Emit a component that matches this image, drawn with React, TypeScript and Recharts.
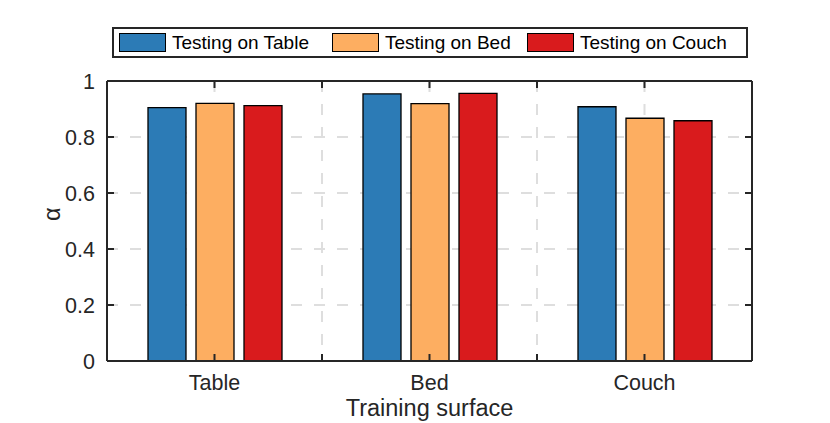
import { BarChart, Bar, XAxis, YAxis, CartesianGrid } from 'recharts'

const surfaces = ['Table', 'Bed', 'Couch']
const surfacePositions = [1, 2, 3]
const testingOnTable = [0.905, 0.954, 0.908]
const testingOnBed = [0.92, 0.919, 0.867]
const testingOnCouch = [0.912, 0.956, 0.858]
const yTicks = [0, 0.2, 0.4, 0.6, 0.8, 1]
const xTicks = [1, 1.5, 2, 2.5, 3]

const series = [
  { key: 'table', name: 'Testing on Table', color: '#2c7bb6', values: testingOnTable },
  { key: 'bed', name: 'Testing on Bed', color: '#fdae61', values: testingOnBed },
  { key: 'couch', name: 'Testing on Couch', color: '#d91b1d', values: testingOnCouch },
]

// legend entry widths (swatch + text + gap), matching the reference spacing
const legendEntryWidths = [213, 195, 210]

const data = surfaces.map((surface, i) => {
  const row: Record<string, string | number> = { surface, pos: surfacePositions[i] }
  series.forEach((s) => {
    row[s.key] = s.values[i]
  })
  return row
})

const AXIS = '#262626'
const FONT = '"Liberation Sans", Arial, Helvetica, sans-serif'
const TICK_LEN = 7

function LeftTick({ x, y, payload }: any) {
  return (
    <g>
      <line x1={x} x2={x + TICK_LEN} y1={y} y2={y} stroke={AXIS} strokeWidth={2} />
      <text x={x - 12} y={y} dy="0.35em" textAnchor="end" fontSize={21.5} fontFamily={FONT} fill={AXIS}>
        {String(payload.value)}
      </text>
    </g>
  )
}

function RightTick({ x, y }: any) {
  return <line x1={x} x2={x - TICK_LEN} y1={y} y2={y} stroke={AXIS} strokeWidth={2} />
}

function TopTick({ x, y }: any) {
  return <line x1={x} x2={x} y1={y} y2={y + TICK_LEN} stroke={AXIS} strokeWidth={2} />
}

function BottomTick({ x, y, payload }: any) {
  const idx = surfacePositions.indexOf(payload.value)
  return (
    <g>
      <line x1={x} x2={x} y1={y} y2={y - TICK_LEN} stroke={AXIS} strokeWidth={2} />
      {idx >= 0 && (
        <text x={x} y={y + 29} textAnchor="middle" fontSize={21.5} fontFamily={FONT} fill={AXIS}>
          {surfaces[idx]}
        </text>
      )}
    </g>
  )
}

function LegendBox() {
  return (
    <div
      style={{
        position: 'absolute',
        left: 112,
        top: 27,
        width: 636,
        height: 31,
        boxSizing: 'border-box',
        border: `2px solid ${AXIS}`,
        background: '#fff',
        display: 'flex',
        alignItems: 'center',
        paddingLeft: 5,
        fontFamily: FONT,
        fontSize: 19,
        color: '#000',
        whiteSpace: 'nowrap',
      }}
    >
      {series.map((s, i) => (
        <span key={s.key} style={{ display: 'flex', alignItems: 'center', width: legendEntryWidths[i] }}>
          <span
            style={{
              display: 'inline-block',
              width: 47,
              height: 19,
              boxSizing: 'border-box',
              background: s.color,
              border: '1.5px solid #000',
              marginRight: 6,
            }}
          />
          {s.name}
        </span>
      ))}
    </div>
  )
}

export default function App() {
  return (
    <div style={{ position: 'absolute', left: 0, top: 0, width: 830, height: 423, background: '#fff' }}>
      <BarChart
        width={830}
        height={423}
        data={data}
        barSize={38}
        barGap={10}
        margin={{ top: 80, right: 77, bottom: 0, left: 47 }}
      >
        <CartesianGrid
          xAxisId="bottom"
          yAxisId="left"
          stroke="#dedede"
          strokeWidth={2}
          strokeDasharray="11 12"
        />
        <XAxis xAxisId="cat" dataKey="surface" hide />
        <XAxis
          xAxisId="bottom"
          type="number"
          dataKey="pos"
          domain={[0.5, 3.5]}
          allowDataOverflow
          ticks={xTicks}
          height={62}
          tickSize={0}
          tickMargin={0}
          tickLine={false}
          tick={<BottomTick />}
          axisLine={{ stroke: AXIS, strokeWidth: 2 }}
          label={{
            value: 'Training surface',
            position: 'insideBottom',
            offset: 7,
            style: { fontSize: 23.5, fontFamily: FONT, fill: AXIS },
          }}
        />
        <XAxis
          xAxisId="top"
          orientation="top"
          type="number"
          dataKey="pos"
          domain={[0.5, 3.5]}
          allowDataOverflow
          ticks={xTicks}
          height={1}
          tickSize={0}
          tickMargin={0}
          tickLine={false}
          tick={<TopTick />}
          axisLine={{ stroke: AXIS, strokeWidth: 2 }}
        />
        <YAxis
          yAxisId="left"
          domain={[0, 1]}
          ticks={yTicks}
          width={60}
          tickSize={0}
          tickMargin={0}
          tickLine={false}
          tick={<LeftTick />}
          axisLine={{ stroke: AXIS, strokeWidth: 2 }}
          label={{
            value: 'α',
            angle: -90,
            position: 'insideLeft',
            offset: 5,
            style: { fontSize: 23.5, fontFamily: FONT, fill: AXIS },
          }}
        />
        <YAxis
          yAxisId="right"
          orientation="right"
          domain={[0, 1]}
          allowDataOverflow
          ticks={yTicks}
          width={1}
          tickSize={0}
          tickMargin={0}
          tickLine={false}
          tick={<RightTick />}
          axisLine={{ stroke: AXIS, strokeWidth: 2 }}
        />
        {series.map((s) => (
          <Bar
            key={s.key}
            xAxisId="cat"
            yAxisId="left"
            dataKey={s.key}
            name={s.name}
            fill={s.color}
            stroke="#000"
            strokeWidth={1.3}
            isAnimationActive={false}
          />
        ))}
      </BarChart>
      <LegendBox />
    </div>
  )
}
